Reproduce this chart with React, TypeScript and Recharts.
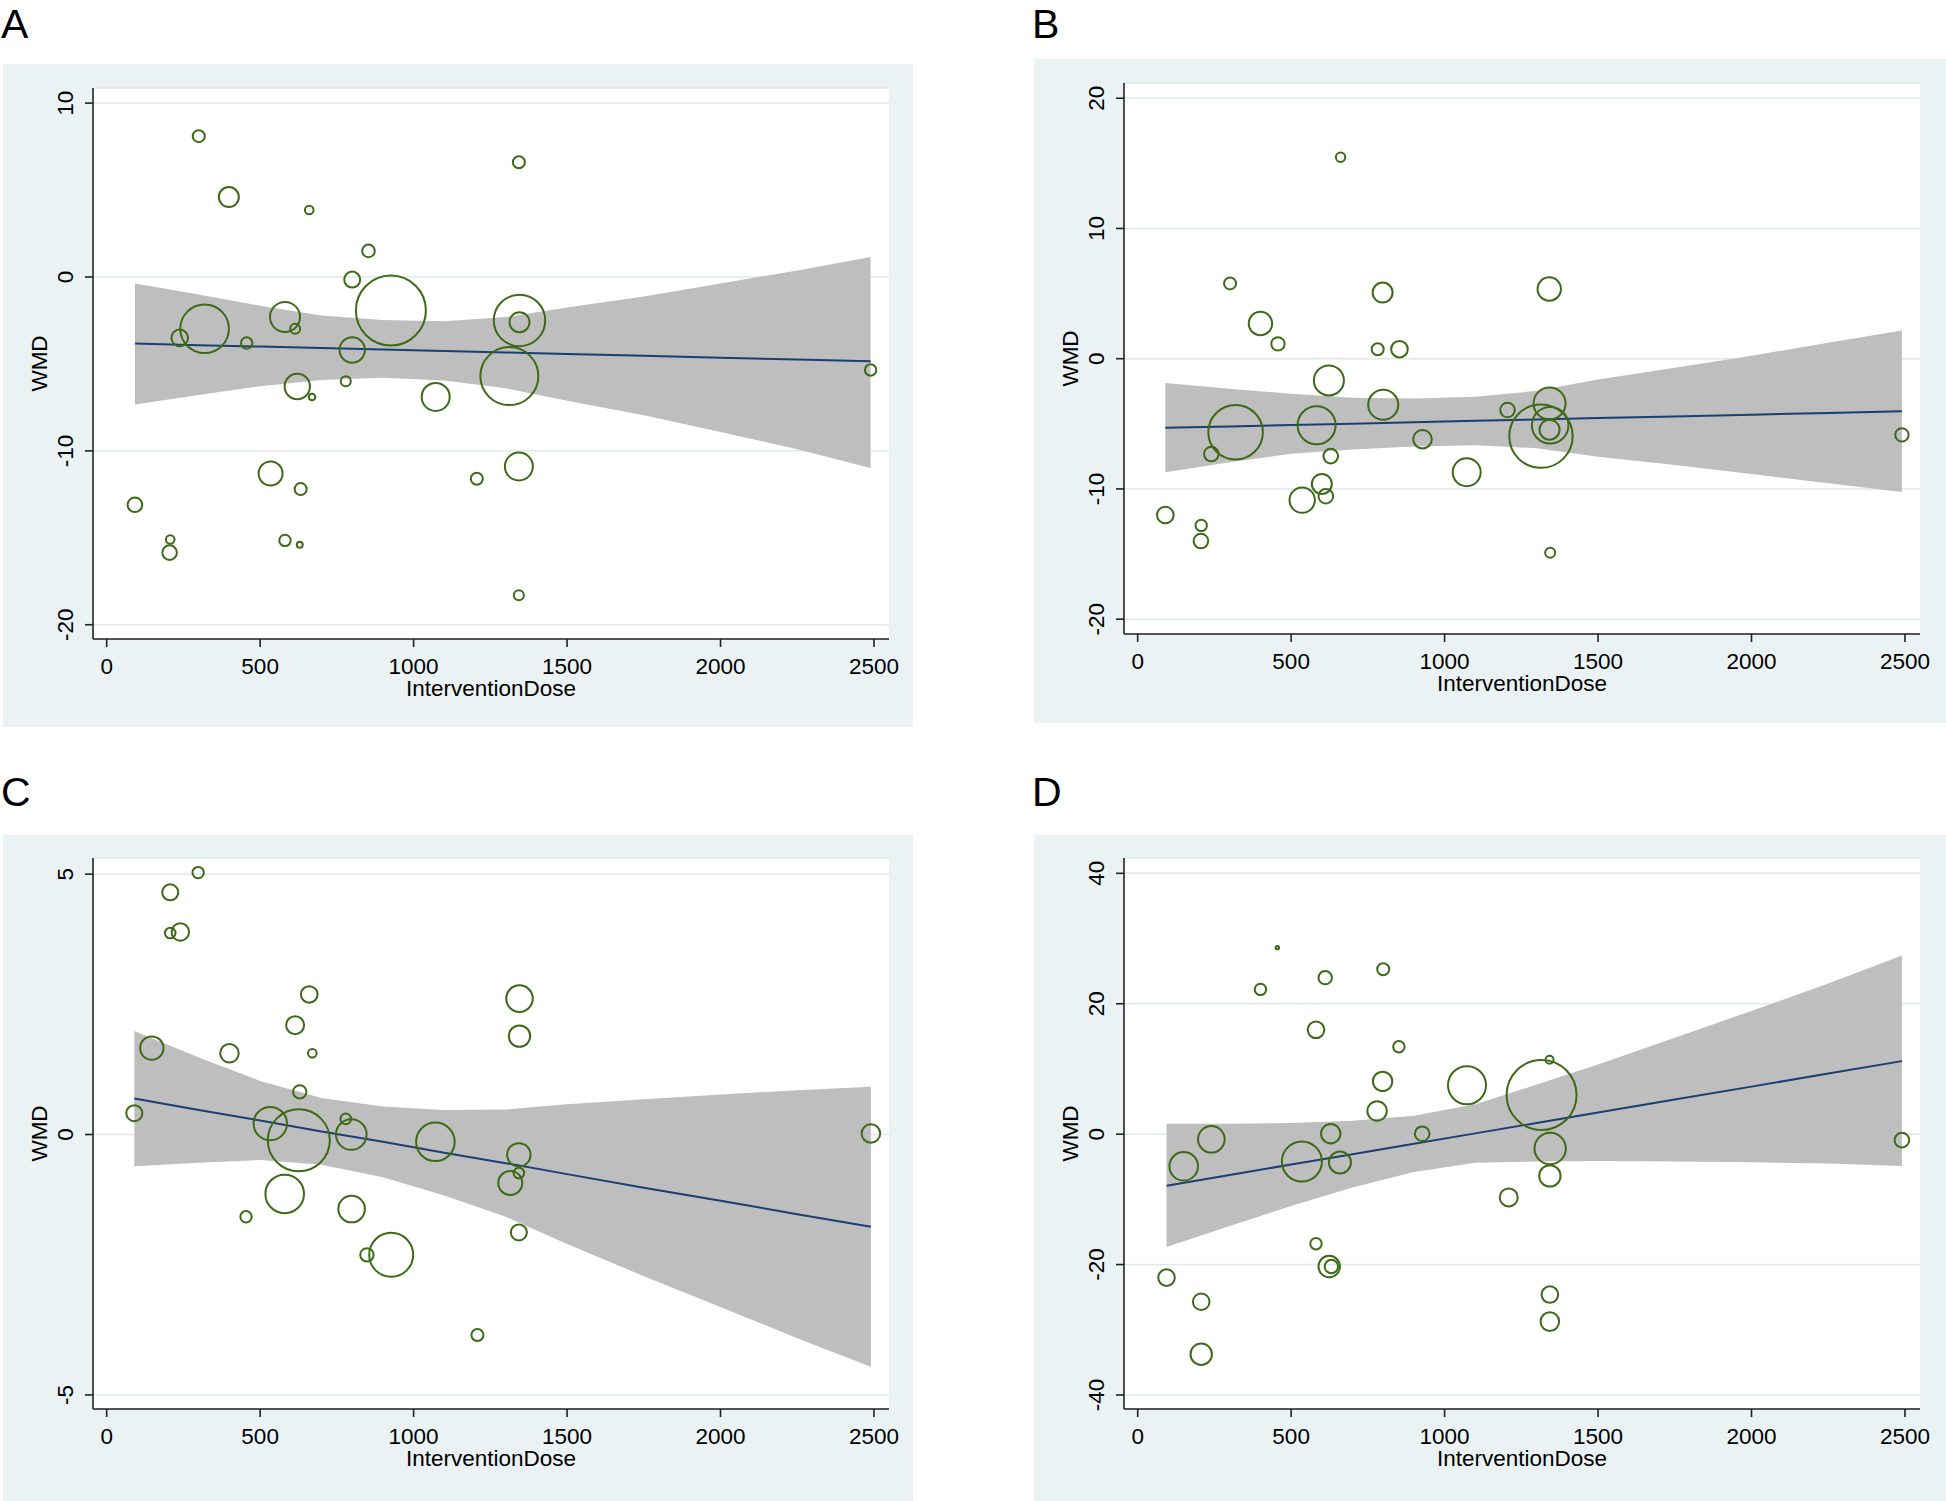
import React from "react"
import {
    ComposedChart,
    XAxis,
    YAxis,
    CartesianGrid,
    Area,
    Line,
    Scatter,
} from "recharts"

const FONT = "'Liberation Sans', Arial, Helvetica, sans-serif"
const BG = "#eaf2f3"
const GRID = "#dde9ec"
const AXIS = "#222"
const BUBBLE = "#3c6a17"
const FIT = "#1b3f73"
const BAND = "#bebebe"

const xTicks = [0, 500, 1000, 1500, 2000, 2500]

// A
const doseA = [300, 398, 660, 853, 800, 926, 319, 238, 581, 614, 456, 800, 621, 669, 779, 1072, 534, 632, 92, 207, 205, 581, 629, 1343, 1345, 1345, 1312, 1343, 1206, 1343, 2489]
const wmdA = [8.1, 4.6, 3.85, 1.5, -0.15, -1.93, -2.98, -3.5, -2.3, -2.98, -3.8, -4.2, -6.3, -6.9, -6.0, -6.9, -11.3, -12.2, -13.1, -15.1, -15.85, -15.15, -15.4, 6.6, -2.5, -2.6, -5.7, -10.9, -11.6, -18.3, -5.35]
const weightA = [2.78, 7.72, 1.43, 3.06, 4.94, 94.5, 45.6, 5.32, 17.4, 1.93, 2.51, 12.4, 12.4, 0.84, 1.93, 15.1, 11.1, 2.78, 4.11, 1.43, 4.11, 2.51, 0.69, 2.78, 51.0, 7.72, 64.9, 15.1, 2.78, 1.93, 2.51]
const fitDoseA = [92, 300, 500, 700, 900, 1100, 1300, 1500, 1750, 2000, 2250, 2489]
const fitA = [-3.83, -3.92, -4.0, -4.09, -4.17, -4.26, -4.34, -4.43, -4.53, -4.64, -4.75, -4.85]
const ciLowA = [-7.33, -6.78, -6.28, -5.93, -5.8, -5.95, -6.4, -7.12, -7.95, -8.92, -9.9, -10.98]
const ciHighA = [-0.38, -1.0, -1.65, -2.22, -2.48, -2.55, -2.3, -1.76, -1.12, -0.38, 0.38, 1.15]
const yTicksA = [-20, -10, 0, 10]

// B
const doseB = [661, 301, 400, 457, 798, 782, 853, 623, 800, 319, 583, 240, 629, 928, 1072, 600, 613, 536, 90, 207, 206, 1341, 1205, 1342, 1314, 1344, 1342, 1344, 2490]
const wmdB = [15.47, 5.78, 2.7, 1.14, 5.08, 0.73, 0.73, -1.67, -3.54, -5.65, -5.11, -7.32, -7.48, -6.18, -8.72, -9.62, -10.56, -10.86, -12.0, -12.8, -14.0, 5.35, -3.94, -3.44, -5.95, -5.11, -5.45, -14.9, -5.85]
const weightB = [1.7, 2.78, 10.56, 3.46, 7.72, 2.78, 5.32, 17.4, 17.4, 57.5, 27.9, 4.11, 4.11, 6.67, 15.1, 7.72, 4.11, 12.4, 5.32, 2.51, 4.11, 10.56, 4.11, 19.8, 77.5, 25.8, 7.72, 1.93, 3.46]
const fitDoseB = [90, 300, 500, 700, 900, 1100, 1300, 1500, 1750, 2000, 2250, 2490]
const fitB = [-5.31, -5.2, -5.09, -4.99, -4.88, -4.77, -4.67, -4.56, -4.43, -4.3, -4.17, -4.04]
const ciLowB = [-8.72, -7.95, -7.3, -6.97, -6.75, -6.65, -6.87, -7.52, -8.16, -8.85, -9.57, -10.24]
const ciHighB = [-1.87, -2.3, -2.7, -3.0, -3.05, -2.92, -2.47, -1.6, -0.7, 0.23, 1.23, 2.17]
const yTicksB = [-20, -10, 0, 10, 20]

// C
const doseC = [298, 207, 207, 240, 660, 614, 147, 400, 670, 629, 90, 533, 626, 779, 797, 1071, 580, 454, 798, 927, 848, 1345, 1345, 1343, 1343, 1315, 1343, 1208, 2490]
const wmdC = [5.03, 4.65, 3.87, 3.89, 2.69, 2.1, 1.66, 1.56, 1.56, 0.82, 0.41, 0.21, -0.11, 0.3, 0.0, -0.14, -1.14, -1.58, -1.43, -2.31, -2.31, 2.61, 1.89, -0.39, -0.74, -0.93, -1.88, -3.85, 0.02]
const weightC = [2.51, 4.94, 2.17, 5.84, 5.32, 6.25, 10.56, 6.67, 1.43, 3.46, 4.94, 21.5, 74.2, 2.17, 18.1, 28.7, 28.7, 2.51, 13.65, 37.3, 3.46, 13.65, 8.83, 10.56, 2.17, 11.1, 4.94, 2.78, 6.67]
const fitDoseC = [90, 300, 500, 700, 900, 1100, 1300, 1500, 1750, 2000, 2250, 2490]
const fitC = [0.69, 0.47, 0.27, 0.06, -0.14, -0.35, -0.55, -0.76, -1.02, -1.27, -1.53, -1.77]
const ciLowC = [-0.61, -0.54, -0.49, -0.58, -0.82, -1.17, -1.58, -2.1, -2.72, -3.31, -3.91, -4.46]
const ciHighC = [1.99, 1.48, 1.03, 0.7, 0.54, 0.47, 0.48, 0.58, 0.68, 0.77, 0.85, 0.92]
const yTicksC = [-5, 0, 5]

// D
const doseD = [455, 800, 611, 400, 581, 851, 798, 780, 1073, 629, 927, 240, 150, 535, 659, 581, 624, 631, 94, 207, 207, 1342, 1316, 1344, 1343, 1209, 1343, 1343, 2490]
const wmdD = [28.6, 25.3, 24.0, 22.2, 16.0, 13.4, 8.1, 3.55, 7.5, 0.07, 0.07, -0.79, -4.93, -4.2, -4.34, -16.8, -20.3, -20.3, -22.0, -25.7, -33.75, 11.4, 6.0, -2.2, -6.4, -9.7, -24.6, -28.75, -0.92]
const weightD = [0.22, 2.78, 3.46, 2.51, 5.32, 2.51, 7.26, 7.26, 27.9, 7.26, 4.11, 13.65, 15.8, 30.9, 9.34, 2.51, 8.83, 3.46, 5.32, 5.32, 8.83, 1.23, 94.5, 19.0, 8.83, 6.25, 5.32, 6.67, 4.11]
const fitDoseD = [94, 300, 500, 700, 900, 1100, 1300, 1500, 1750, 2000, 2250, 2490]
const fitD = [-7.9, -6.26, -4.66, -3.07, -1.48, 0.12, 1.71, 3.31, 5.3, 7.29, 9.29, 11.2]
const ciLowD = [-17.3, -14.1, -11.0, -8.2, -5.8, -4.4, -4.2, -4.1, -4.2, -4.3, -4.5, -4.9]
const ciHighD = [1.58, 1.58, 1.7, 2.05, 2.83, 4.6, 7.6, 10.7, 14.8, 18.9, 23.1, 27.4]
const yTicksD = [-40, -20, 0, 20, 40]

const PLOT_H = 551

function YTick(props: any) {
    const { x, y, payload } = props
    return (
        <g transform={`translate(${x},${y}) rotate(-90)`}>
            <text x={0} y={0} dy="0.36em" textAnchor="middle" fontSize={22.5} fontFamily={FONT} fill="#000">
                {payload.value}
            </text>
        </g>
    )
}

function XTick(props: any) {
    const { x, y, payload } = props
    return (
        <text x={x} y={y} dy="0.36em" textAnchor="middle" fontSize={22.5} fontFamily={FONT} fill="#000">
            {payload.value}
        </text>
    )
}

const xLabel = (props: any) => {
    const vb = props.viewBox
    return (
        <text x={vb.x + vb.width / 2} y={vb.y + 49} dy="0.36em" textAnchor="middle" fontSize={22.5} fontFamily={FONT} fill="#000">
            InterventionDose
        </text>
    )
}

const yLabel = (props: any) => {
    const vb = props.viewBox
    const cx = vb.x + vb.width - 54
    const cy = vb.y + vb.height / 2
    return (
        <g transform={`translate(${cx},${cy}) rotate(-90)`}>
            <text x={0} y={0} dy="0.36em" textAnchor="middle" fontSize={22.5} fontFamily={FONT} fill="#000">
                WMD
            </text>
        </g>
    )
}

const bubble = (props: any) => {
    const { cx, cy, payload } = props
    // marker area follows the study weight
    const r = 3.6 * Math.sqrt(payload.w)
    return <circle cx={cx} cy={cy} r={r} fill="none" stroke={BUBBLE} strokeWidth={2} />
}

interface PanelProps {
    width: number
    height: number
    top: number
    dose: number[]
    wmd: number[]
    weight: number[]
    fitDose: number[]
    fit: number[]
    ciLow: number[]
    ciHigh: number[]
    yTicks: number[]
    yDomain: [number, number]
}

function MetaRegPanel({ width, height, top, dose, wmd, weight, fitDose, fit, ciLow, ciHigh, yTicks, yDomain }: PanelProps) {
    const points = dose.map((d, i) => ({ x: d, y: wmd[i], w: weight[i] }))
    const band = fitDose.map((d, i) => ({ x: d, fit: fit[i], ci: [ciLow[i], ciHigh[i]] }))

    return (
        <ComposedChart width={width} height={height} margin={{ top, right: width - 90 - 796, bottom: 0, left: 0 }}>
            <CartesianGrid vertical={false} fill="#fff" fillOpacity={1} stroke={GRID} strokeWidth={1.5} />
            <XAxis
                type="number"
                dataKey="x"
                domain={[-44.6, 2549]}
                ticks={xTicks}
                allowDataOverflow
                height={height - top - PLOT_H}
                axisLine={{ stroke: AXIS, strokeWidth: 1.6 }}
                tickLine={{ stroke: AXIS, strokeWidth: 1.6 }}
                tickSize={8}
                tickMargin={19}
                tick={<XTick />}
                label={xLabel}
            />
            <YAxis
                type="number"
                domain={yDomain}
                ticks={yTicks}
                allowDataOverflow
                width={90}
                axisLine={{ stroke: AXIS, strokeWidth: 1.6 }}
                tickLine={{ stroke: AXIS, strokeWidth: 1.6 }}
                tickSize={8}
                tickMargin={20}
                tick={<YTick />}
                label={yLabel}
            />
            <Area
                data={band}
                dataKey="ci"
                type="linear"
                stroke="none"
                fill={BAND}
                fillOpacity={1}
                isAnimationActive={false}
            />
            <Line
                data={band}
                dataKey="fit"
                type="linear"
                stroke={FIT}
                strokeWidth={2}
                dot={false}
                activeDot={false}
                isAnimationActive={false}
            />
            <Scatter data={points} dataKey="y" shape={bubble} isAnimationActive={false} />
        </ComposedChart>
    )
}

const letterStyle = { fontSize: 41, fontFamily: FONT, fill: "#000" }

export default function App() {
    return (
        <div style={{ position: "absolute", left: 0, top: 0, width: 1946, height: 1501, background: "#fff", overflow: "hidden" }}>
            <svg width={1946} height={1501} style={{ position: "absolute", left: 0, top: 0 }}>
                <text x={1} y={38} {...letterStyle}>A</text>
                <text x={1032} y={38} {...letterStyle}>B</text>
                <text x={1} y={806} {...letterStyle}>C</text>
                <text x={1032} y={806} {...letterStyle}>D</text>
            </svg>

            <div style={{ position: "absolute", left: 3, top: 64, width: 910, height: 663, background: BG }}>
                <MetaRegPanel
                    width={910} height={663} top={24}
                    dose={doseA} wmd={wmdA} weight={weightA}
                    fitDose={fitDoseA} fit={fitA} ciLow={ciLowA} ciHigh={ciHighA}
                    yTicks={yTicksA} yDomain={[-20.82, 10.87]}
                />
            </div>

            <div style={{ position: "absolute", left: 1034, top: 59, width: 912, height: 664, background: BG }}>
                <MetaRegPanel
                    width={912} height={664} top={24}
                    dose={doseB} wmd={wmdB} weight={weightB}
                    fitDose={fitDoseB} fit={fitB} ciLow={ciLowB} ciHigh={ciHighB}
                    yTicks={yTicksB} yDomain={[-21.14, 21.17]}
                />
            </div>

            <div style={{ position: "absolute", left: 3, top: 835, width: 910, height: 666, background: BG }}>
                <MetaRegPanel
                    width={910} height={666} top={23}
                    dose={doseC} wmd={wmdC} weight={weightC}
                    fitDose={fitDoseC} fit={fitC} ciLow={ciLowC} ciHigh={ciHighC}
                    yTicks={yTicksC} yDomain={[-5.27, 5.31]}
                />
            </div>

            <div style={{ position: "absolute", left: 1034, top: 835, width: 912, height: 666, background: BG }}>
                <MetaRegPanel
                    width={912} height={666} top={23}
                    dose={doseD} wmd={wmdD} weight={weightD}
                    fitDose={fitDoseD} fit={fitD} ciLow={ciLowD} ciHigh={ciHighD}
                    yTicks={yTicksD} yDomain={[-42.15, 42.35]}
                />
            </div>
        </div>
    )
}
